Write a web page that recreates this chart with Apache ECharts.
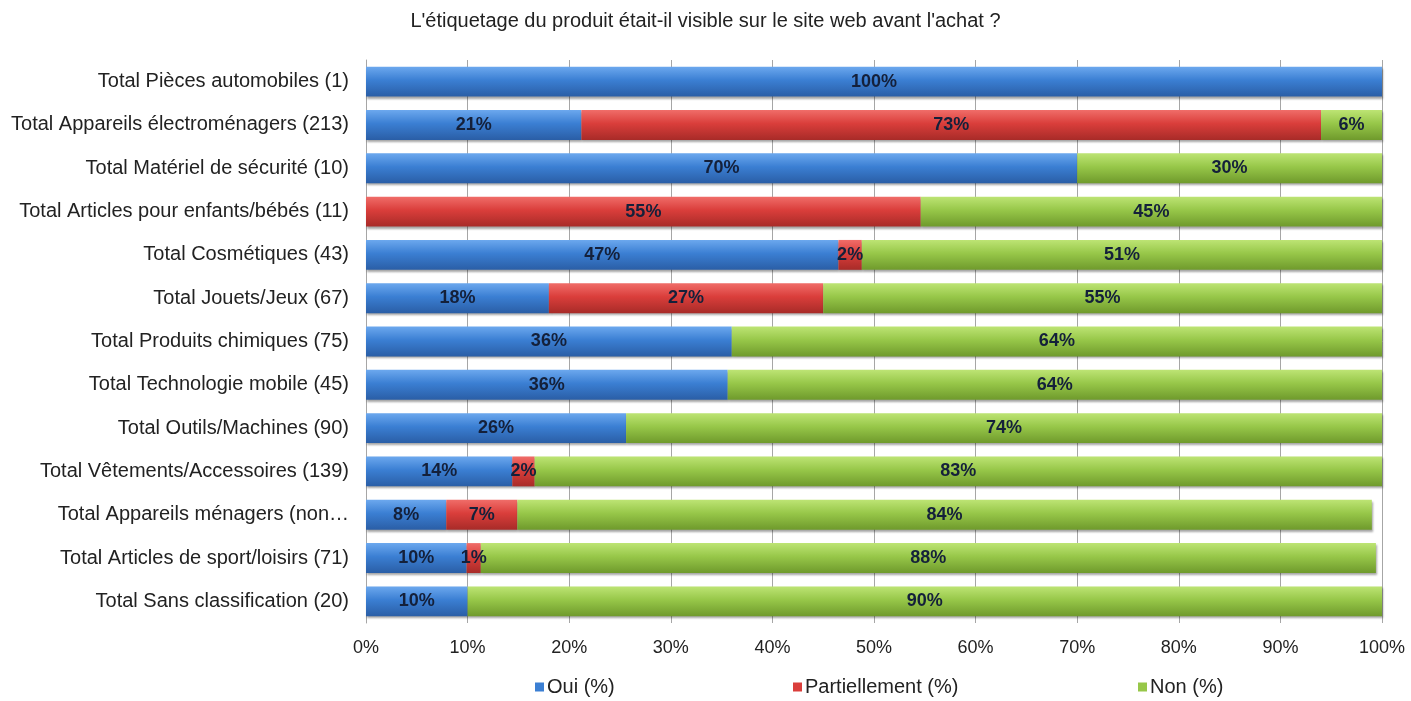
<!DOCTYPE html>
<html>
<head>
<meta charset="utf-8">
<script src="https://cdn.jsdelivr.net/npm/echarts@6/dist/echarts.min.js"></script>
<style>
html,body{margin:0;padding:0;background:#fff;}
#chart{width:1411px;height:701px;}
</style>
</head>
<body>
<div id="chart"></div>
<script>
var chartTitle = "L'étiquetage du produit était-il visible sur le site web avant l'achat ?";
var categories = [
  "Total Pièces automobiles (1)",
  "Total Appareils électroménagers (213)",
  "Total Matériel de sécurité (10)",
  "Total Articles pour enfants/bébés (11)",
  "Total Cosmétiques (43)",
  "Total Jouets/Jeux (67)",
  "Total Produits chimiques (75)",
  "Total Technologie mobile (45)",
  "Total Outils/Machines (90)",
  "Total Vêtements/Accessoires (139)",
  "Total Appareils ménagers (non…",
  "Total Articles de sport/loisirs (71)",
  "Total Sans classification (20)"
];
var seriesNames = ["Oui (%)", "Partiellement (%)", "Non (%)"];
var ouiValues =   [100, 21.2, 70, 0,    46.5, 18, 36, 35.6, 25.6, 14.4, 7.9, 9.9, 10];
var partValues =  [0,   72.8, 0,  54.6, 2.3,  27, 0,  0,    0,    2.2,  7.0, 1.4, 0];
var nonValues =   [0,   6.0,  30, 45.4, 51.2, 55, 64, 64.4, 74.4, 83.4, 84.1, 88.1, 90];
var xTicks = [0, 10, 20, 30, 40, 50, 60, 70, 80, 90, 100];

function grad(c0, c1, c2) {
  return new echarts.graphic.LinearGradient(0, 0, 0, 1, [
    {offset: 0, color: c0}, {offset: 0.45, color: c1}, {offset: 1, color: c2}
  ]);
}
var colors = [
  grad('#6ca8ee', '#3b7fd3', '#2a5ea6'),
  grad('#f06d69', '#da3e3b', '#a82b28'),
  grad('#bde474', '#97c749', '#6f9a2c')
];
var legendColors = ['#3b7fd3', '#da3e3b', '#97c749'];
var FONT = 'Liberation Sans, Arial, sans-serif';

// reverse so first category is at top
var cats = categories.slice().reverse();
var dataSets = [ouiValues, partValues, nonValues].map(function(a){ return a.slice().reverse(); });

var series = seriesNames.map(function(name, i) {
  return {
    name: name,
    type: 'bar',
    stack: 'total',
    barCategoryGap: '31%',
    data: dataSets[i],
    itemStyle: {
      color: colors[i],
      shadowColor: 'rgba(0,0,0,0.35)',
      shadowBlur: 2,
      shadowOffsetX: 1,
      shadowOffsetY: 2
    },
    label: {
      show: true,
      position: 'inside',
      fontFamily: FONT,
      fontSize: 18,
      fontWeight: 'bold',
      color: '#14203a',
      formatter: function(p) { return p.value ? Math.round(p.value) + '%' : ''; }
    }
  };
});

var chart = echarts.init(document.getElementById('chart'));
chart.setOption({
  animation: false,
  backgroundColor: '#fff',
  title: {
    text: chartTitle,
    left: 'center',
    top: 6,
    textStyle: {fontFamily: FONT, fontSize: 20, fontWeight: 'normal', color: '#222'}
  },
  legend: [
    {data: [{name: seriesNames[0], itemStyle: {color: legendColors[0]}}], left: 535, top: 677},
    {data: [{name: seriesNames[1], itemStyle: {color: legendColors[1]}}], left: 793, top: 677},
    {data: [{name: seriesNames[2], itemStyle: {color: legendColors[2]}}], left: 1138, top: 677}
  ].map(function(l) {
    l.icon = 'rect';
    l.itemWidth = 9;
    l.itemHeight = 9;
    l.padding = 0;
    l.selectedMode = false;
    l.textStyle = {fontFamily: FONT, fontSize: 20, color: '#222', padding: [0,0,0,-2]};
    return l;
  }),
  grid: {left: 366, right: 29, top: 60, bottom: 78, containLabel: false},
  xAxis: {
    type: 'value',
    min: 0,
    max: 100,
    interval: 10,
    axisLine: {show: false},
    axisTick: {show: false},
    splitLine: {show: true, lineStyle: {color: '#a6a6a6', width: 1}},
    axisLabel: {
      margin: 16,
      fontFamily: FONT,
      fontSize: 18,
      color: '#222',
      formatter: function(v) { return xTicks.indexOf(v) >= 0 ? v + '%' : ''; }
    }
  },
  yAxis: {
    type: 'category',
    data: cats,
    axisLine: {show: true, lineStyle: {color: '#a6a6a6'}},
    axisTick: {show: false},
    axisLabel: {
      margin: 17,
      fontFamily: FONT,
      fontSize: 20,
      color: '#222'
    }
  },
  series: series
});
</script>
</body>
</html>
